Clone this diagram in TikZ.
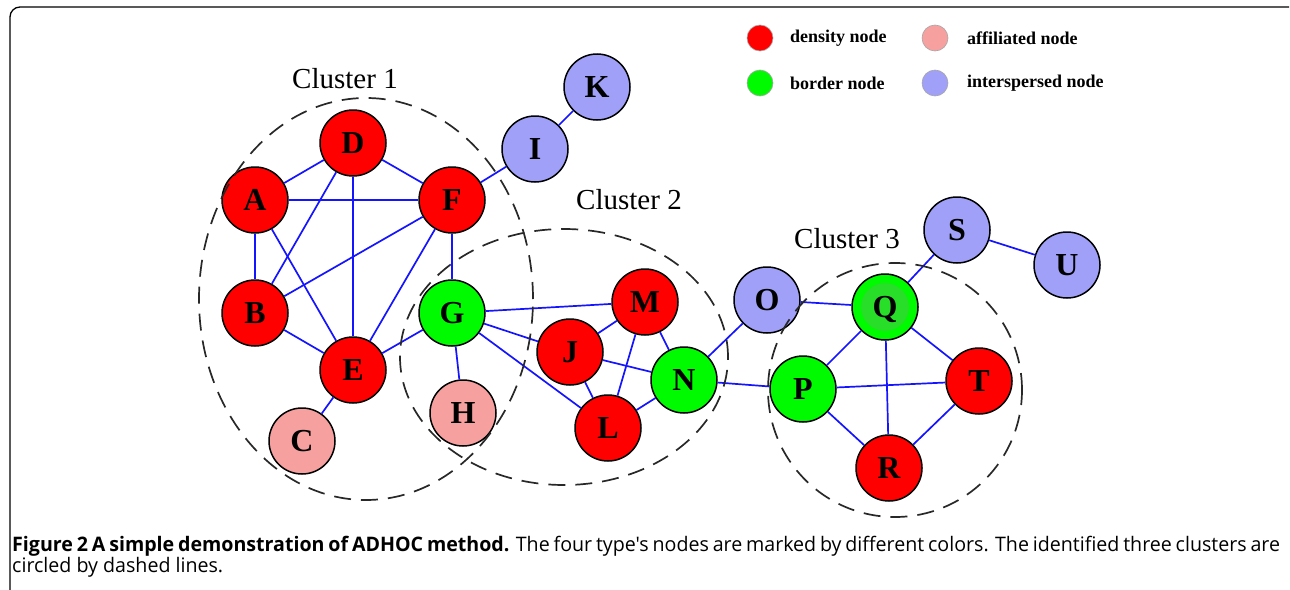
\documentclass[tikz,border=0pt]{standalone}
\usepackage{fontspec}
\setmainfont{Liberation Serif}
\newfontfamily\capfont{Open Sans}
\usetikzlibrary{shapes.geometric}
\definecolor{densc}{RGB}{255,0,0}
\definecolor{bordc}{RGB}{0,250,0}
\definecolor{affc}{RGB}{246,160,160}
\definecolor{intc}{RGB}{160,160,248}
\definecolor{qinner}{RGB}{40,222,40}
\definecolor{edgec}{RGB}{20,20,255}
\definecolor{dashc}{RGB}{40,40,40}
\newlength\capw
\newcommand\capsetup{\capfont\fontsize{20}{24}\selectfont
  \settowidth{\capw}{circled by dashed lines.}%
  \pgfmathsetmacro{\capscale}{211/\capw}%
  \pgfmathsetlengthmacro{\capboxw}{1268/\capscale}}
\tikzset{
  vtx/.style={circle, draw=black, line width=1.5pt, minimum size=66pt, inner sep=0pt,
    font=\fontsize{32}{32}\selectfont\bfseries, text height=21pt, text depth=0pt},
  dens/.style={vtx, fill=densc},
  bord/.style={vtx, fill=bordc},
  aff/.style={vtx, fill=affc},
  inter/.style={vtx, fill=intc},
  qstyle/.style={bord, path picture={\fill[qinner] (path picture bounding box.center) circle (24pt);}},
  edge/.style={draw=edgec, line width=1.7pt},
  clus/.style={ellipse, draw=dashc, line width=1.7pt, dash pattern=on 17pt off 10pt, inner sep=0pt},
  clabel/.style={font=\fontsize{29}{29}\selectfont, inner sep=0pt},
  legdot/.style={circle, draw=gray!70, line width=0.6pt, minimum size=26pt, inner sep=0pt},
  legtext/.style={anchor=west, inner sep=0pt, font=\fontsize{18}{18}\selectfont\bfseries},
}
\begin{document}
\begin{tikzpicture}[x=1pt, y=-1pt]
\useasboundingbox (0,0) rectangle (1290,589);
% frame
\draw[line width=1.3pt, rounded corners=10pt] (18,600) -- (10,600) -- (10,7) -- (1289,7);

% nodes
\node[dens] (D) at (353,143) {D};
\node[dens] (A) at (255,200) {A};
\node[dens] (F) at (452,200) {F};
\node[dens] (B) at (255,313) {B};
\node[dens] (E) at (353,370) {E};
\node[aff]  (C) at (302,441) {C};
\node[bord] (G) at (452,313) {G};
\node[aff]  (H) at (463,413) {H};
\node[inter] (I) at (535,149) {I};
\node[inter] (K) at (597,87) {K};
\node[dens] (M) at (645,302) {M};
\node[dens] (J) at (570,352) {J};
\node[bord] (N) at (684,380) {N};
\node[dens] (L) at (608,428) {L};
\node[inter] (O) at (767,300) {O};
\node[qstyle] (Q) at (885,307) {Q};
\node[bord] (P) at (803,389) {P};
\node[dens] (T) at (979,381) {T};
\node[dens] (R) at (889,468) {R};
\node[inter] (S) at (957,230) {S};
\node[inter] (U) at (1067,265) {U};

% edges
\foreach \a/\b in {A/D, D/F, A/F, A/B, D/B, D/E, A/E, F/B, F/E, B/E, F/G, E/G, E/C, F/I, I/K,
  G/M, G/J, G/L, G/H, J/M, J/N, J/L, M/L, M/N, N/L, N/O, N/P,
  O/Q, Q/S, S/U, Q/P, Q/T, Q/R, P/T, P/R, T/R}
  \draw[edge] (\a) -- (\b);

% clusters
\node[clus, minimum width=334pt, minimum height=402pt] (cl1) at (366,299) {};
\node[clus, minimum width=328pt, minimum height=256pt] (cl2) at (564,357) {};
\node[clus, minimum width=254pt, minimum height=254pt] (cl3) at (895,390) {};
\node[clabel] (l1) at (345,79) {Cluster 1};
\node[clabel] (l2) at (629,200) {Cluster 2};
\node[clabel] (l3) at (847,239) {Cluster 3};

% legend
\node[legdot, fill=densc] (ld) at (760,38) {};
\node[legtext] (tld) at (790,38) {density node};
\node[legdot, fill=affc] (la) at (935,38) {};
\node[legtext] (tla) at (967,38) {affiliated node};
\node[legdot, fill=bordc] (lb) at (760,83) {};
\node[legtext] (tlb) at (790,83) {border node};
\node[legdot, fill=intc] (li) at (935,83) {};
\node[legtext] (tli) at (967,83) {interspersed node};

% caption
\node[anchor=base west, inner sep=0pt] (cap1) at (12,551)
  {\capsetup\scalebox{\capscale}[1]{\makebox[\capboxw][s]{\textbf{Figure 2 A simple demonstration of ADHOC method.} The four type's nodes are marked by different colors. The identified three clusters are}}};
\node[anchor=base west, inner sep=0pt] (cap2) at (12,572)
  {\capsetup\scalebox{\capscale}[1]{circled by dashed lines.}};
\end{tikzpicture}
\end{document}
